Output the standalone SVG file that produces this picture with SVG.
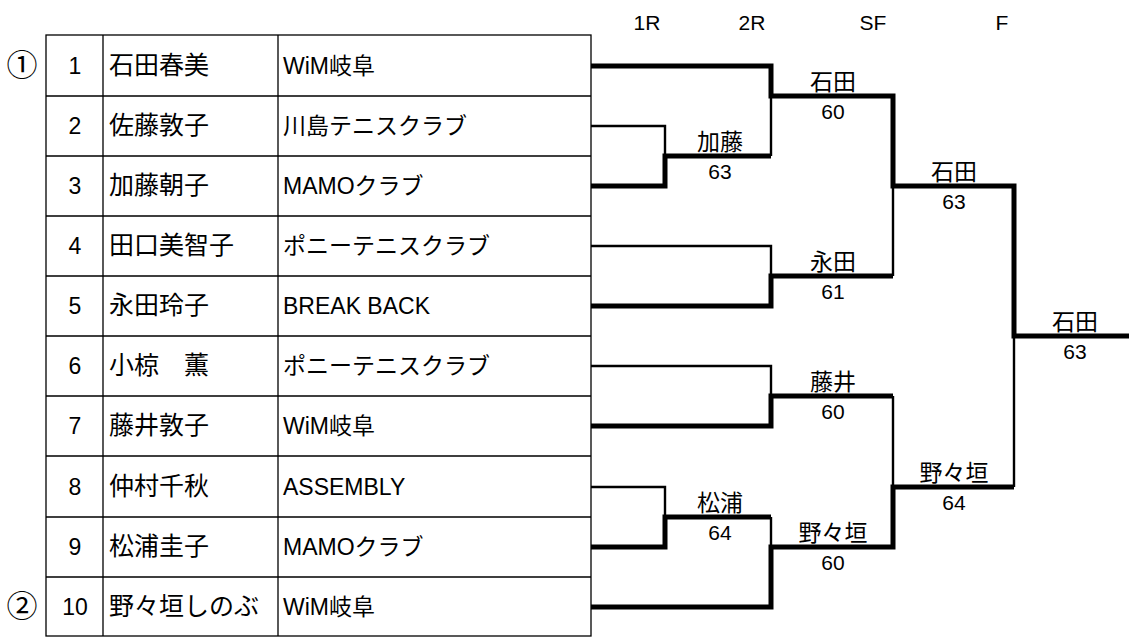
<svg xmlns="http://www.w3.org/2000/svg" width="1129" height="637" viewBox="0 0 1129 637">
<style>
text{font-family:"Liberation Sans","Noto Sans CJK JP",sans-serif;fill:#000}
.num{font-size:23px;text-anchor:middle}
.name{font-size:25px}
.club{font-size:23px}
.seed{font-size:31px;text-anchor:middle;font-family:"Noto Sans CJK JP",sans-serif}
.hdr{font-size:21px;text-anchor:middle}
.lbl{font-size:23px;text-anchor:middle}
.score{font-size:21px;text-anchor:middle}
.grid{stroke:#000;stroke-width:1.3;fill:none}
.thin{stroke:#000;stroke-width:2.4;fill:none}
.thick{stroke:#000;stroke-width:5;fill:none;stroke-linejoin:miter}
</style>
<rect width="1129" height="637" fill="#fff"/>
<g id="headers">
<text class="hdr" x="647" y="30">1R</text>
<text class="hdr" x="752" y="30">2R</text>
<text class="hdr" x="873" y="30">SF</text>
<text class="hdr" x="1002" y="30">F</text>
</g>
<g id="table" class="grid">
<rect x="46" y="35" width="545" height="601"/>
<path d="M103,35V636M278,35V636M46,96H591M46,156H591M46,216H591M46,276H591M46,336H591M46,396H591M46,456H591M46,517H591M46,577H591"/>
</g>
<g id="seeds">
<text class="seed" x="22" y="76">①</text>
<text class="seed" x="22" y="617">②</text>
</g>
<g id="p1"><text class="num" x="75" y="74">1</text><text class="name" x="109" y="74">石田春美</text><text class="club" x="283" y="74">WiM岐阜</text></g>
<g id="p2"><text class="num" x="75" y="134">2</text><text class="name" x="109" y="134">佐藤敦子</text><text class="club" x="283" y="134">川島テニスクラブ</text></g>
<g id="p3"><text class="num" x="75" y="194">3</text><text class="name" x="109" y="194">加藤朝子</text><text class="club" x="283" y="194">MAMOクラブ</text></g>
<g id="p4"><text class="num" x="75" y="254">4</text><text class="name" x="109" y="254">田口美智子</text><text class="club" x="283" y="254">ポニーテニスクラブ</text></g>
<g id="p5"><text class="num" x="75" y="314">5</text><text class="name" x="109" y="314">永田玲子</text><text class="club" x="283" y="314">BREAK BACK</text></g>
<g id="p6"><text class="num" x="75" y="374">6</text><text class="name" x="109" y="374">小椋　薫</text><text class="club" x="283" y="374">ポニーテニスクラブ</text></g>
<g id="p7"><text class="num" x="75" y="434">7</text><text class="name" x="109" y="434">藤井敦子</text><text class="club" x="283" y="434">WiM岐阜</text></g>
<g id="p8"><text class="num" x="75" y="495">8</text><text class="name" x="109" y="495">仲村千秋</text><text class="club" x="283" y="495">ASSEMBLY</text></g>
<g id="p9"><text class="num" x="75" y="555">9</text><text class="name" x="109" y="555">松浦圭子</text><text class="club" x="283" y="555">MAMOクラブ</text></g>
<g id="p10"><text class="num" x="75" y="615">10</text><text class="name" x="109" y="615">野々垣しのぶ</text><text class="club" x="283" y="615">WiM岐阜</text></g>
<g id="connectors">
<path class="thin" d="M591,126H665V156M771,96V156M591,246H771V276M893,186V276M591,366H771V396M591,487H665V517M771,517V547M893,396V487M1014,336V487"/>
<path class="thick" d="M591,66H771V96H893V186H1014V336H1129"/>
<path class="thick" d="M591,186H665V156H771"/>
<path class="thick" d="M591,306H771V276H893"/>
<path class="thick" d="M591,426H771V396H893"/>
<path class="thick" d="M591,547H665V517H771"/>
<path class="thick" d="M591,607H771V547H893V487H1014"/>
</g>
<g id="m1"><text class="lbl" x="720" y="150">加藤</text><text class="score" x="720" y="179">63</text></g>
<g id="m2"><text class="lbl" x="833" y="90">石田</text><text class="score" x="833" y="119">60</text></g>
<g id="m3"><text class="lbl" x="833" y="270">永田</text><text class="score" x="833" y="299">61</text></g>
<g id="m4"><text class="lbl" x="833" y="390">藤井</text><text class="score" x="833" y="419">60</text></g>
<g id="m5"><text class="lbl" x="720" y="511">松浦</text><text class="score" x="720" y="540">64</text></g>
<g id="m6"><text class="lbl" x="833" y="541">野々垣</text><text class="score" x="833" y="570">60</text></g>
<g id="m7"><text class="lbl" x="954" y="180">石田</text><text class="score" x="954" y="209">63</text></g>
<g id="m8"><text class="lbl" x="954" y="481">野々垣</text><text class="score" x="954" y="510">64</text></g>
<g id="m9"><text class="lbl" x="1075" y="330">石田</text><text class="score" x="1075" y="359">63</text></g>
</svg>
